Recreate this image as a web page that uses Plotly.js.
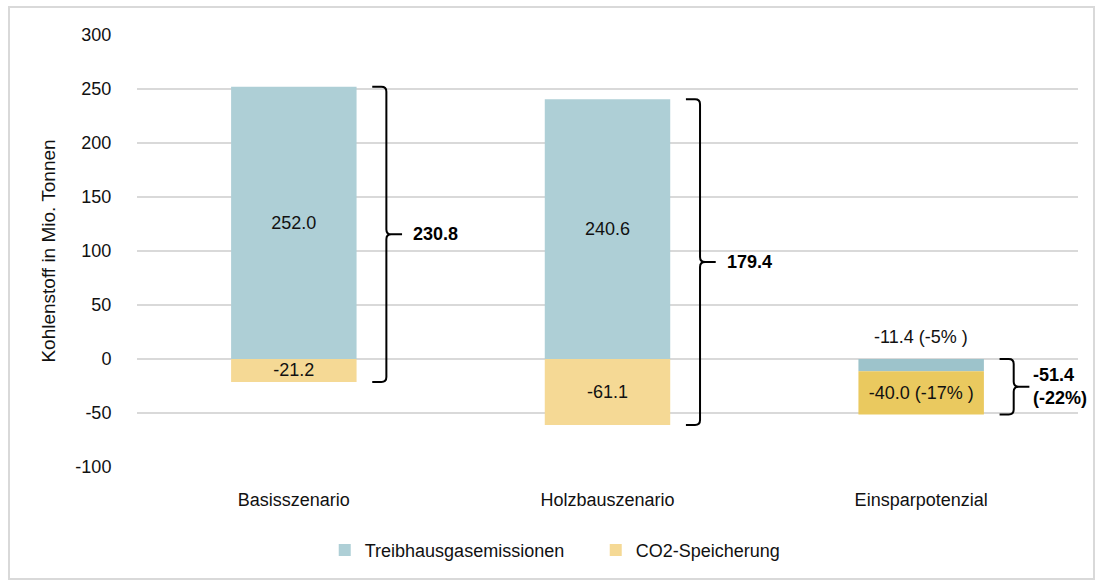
<!DOCTYPE html>
<html>
<head>
<meta charset="utf-8">
<script src="https://cdn.plot.ly/plotly-3.0.1.min.js"></script>
<style>
  html, body { margin: 0; padding: 0; background: #fff; }
  #wrap { position: relative; width: 1098px; height: 580px; }
  #chart { position: absolute; left: 0; top: 0; width: 1098px; height: 580px; }
  #frame { position: absolute; left: 8px; top: 6px; width: 1083px; height: 570px; border: 2px solid #d9d9d9; pointer-events: none; }
</style>
</head>
<body>
<div id="wrap">
  <div id="chart"></div>
  <div id="frame"></div>
</div>
<script>
// ---- data ----
const categories = ["Basisszenario", "Holzbauszenario", "Einsparpotenzial"];
const emissions = [252.0, 240.6, -11.4];           // Treibhausgasemissionen
const storage = [-21.2, -61.1, -40.0];             // CO2-Speicherung
const emissionLabels = ["252.0", "240.6", "-11.4 (-5% )"];
const storageLabels = ["-21.2", "-61.1", "-40.0 (-17% )"];
const totals = [230.8, 179.4, -51.4];
const totalLabels = ["230.8", "179.4", "-51.4<br>(-22%)"];
const yTicks = [-100, -50, 0, 50, 100, 150, 200, 250, 300];

const FONT = '"Liberation Sans", Arial, sans-serif';
const FS = 18;
const xIdx = categories.map((c, i) => i);

const tealColors = ["#aecfd6", "#aecfd6", "#9dc3cb"];
const yellowColors = ["#f5d995", "#f5d995", "#eac95f"];

const traceEm = {
  type: "bar", name: "Treibhausgasemissionen",
  x: xIdx, y: emissions,
  text: emissionLabels.map((t, i) => emissions[i] > 0 ? t : ""),
  textposition: "inside", insidetextanchor: "middle", constraintext: "none",
  textfont: { family: FONT, size: FS, color: "#111" },
  marker: { color: tealColors },
  width: 0.4, hoverinfo: "skip"
};
const traceSt = {
  type: "bar", name: "CO2-Speicherung",
  x: xIdx, y: storage,
  text: storageLabels,
  textposition: "inside", insidetextanchor: "middle", constraintext: "none",
  textfont: { family: FONT, size: FS, color: "#111" },
  marker: { color: yellowColors },
  width: 0.4, hoverinfo: "skip"
};

// braces
const shapes = [];
const annotations = [];
const pxX = 313.7, pxY = 433 / 400;
categories.forEach((c, i) => {
  const top = emissions[i] > 0 ? emissions[i] : 0;
  const bot = emissions[i] > 0 ? storage[i] : emissions[i] + storage[i];
  const mid = (top + bot) / 2;
  const xa = i + 0.25, xv = i + 0.295, xt = i + 0.345;
  const rx = 5 / pxX, ry = 5 / pxY;
  const p = `M ${xa} ${top} L ${xv - rx} ${top} Q ${xv} ${top} ${xv} ${top - ry} ` +
    `L ${xv} ${mid + ry} Q ${xv} ${mid} ${xv + rx} ${mid} L ${xt} ${mid} ` +
    `M ${xv + rx} ${mid} Q ${xv} ${mid} ${xv} ${mid - ry} ` +
    `L ${xv} ${bot + ry} Q ${xv} ${bot} ${xv - rx} ${bot} L ${xa} ${bot}`;
  shapes.push({ type: "path", xref: "x", yref: "y", path: p, line: { color: "#000", width: 2 } });
  annotations.push({
    x: i + (emissions[i] > 0 ? 0.375 : 0.35), y: mid, xref: "x", yref: "y", text: "<b>" + totalLabels[i] + "</b>",
    showarrow: false, xanchor: "left", yanchor: "middle", align: "left",
    font: { family: FONT, size: FS, color: "#000" }
  });
  if (emissions[i] < 0) {
    annotations.push({
      x: i, y: 0, xref: "x", yref: "y", yshift: 22, text: emissionLabels[i],
      showarrow: false, xanchor: "center", yanchor: "middle",
      font: { family: FONT, size: FS, color: "#111" }
    });
  }
});

const layout = {
  width: 1098, height: 580,
  margin: { l: 137, r: 20, t: 35, b: 112 },
  paper_bgcolor: "#fff", plot_bgcolor: "#fff",
  barmode: "relative", bargap: 0.6,
  showlegend: true,
  legend: {
    orientation: "h", x: 0.4875, xanchor: "center", y: -0.19, yanchor: "middle",
    font: { family: FONT, size: FS, color: "#111" }, itemwidth: 30, traceorder: "normal",
    entrywidth: 226, entrywidthmode: "pixels"
  },
  xaxis: {
    type: "linear", range: [-0.5, 2.5], tickvals: xIdx, ticktext: categories,
    showgrid: false, zeroline: false, showline: false,
    ticks: "outside", ticklen: 16, tickcolor: "rgba(0,0,0,0)",
    tickfont: { family: FONT, size: FS, color: "#111" }
  },
  yaxis: {
    range: [-100, 300], tickvals: yTicks, ticktext: yTicks.map(String),
    showgrid: true, gridcolor: "#d9d9d9", gridwidth: 2,
    zeroline: true, zerolinecolor: "#d9d9d9", zerolinewidth: 2, showline: false,
    ticks: "outside", ticklen: 21, tickcolor: "rgba(0,0,0,0)",
    tickfont: { family: FONT, size: FS, color: "#111" },
    title: { text: "Kohlenstoff in Mio. Tonnen", font: { family: FONT, size: 19, color: "#111" }, standoff: 14 }
  },
  shapes: shapes,
  annotations: annotations
};

Plotly.newPlot("chart", [traceEm, traceSt], layout, { displayModeBar: false, staticPlot: true });
</script>
</body>
</html>
